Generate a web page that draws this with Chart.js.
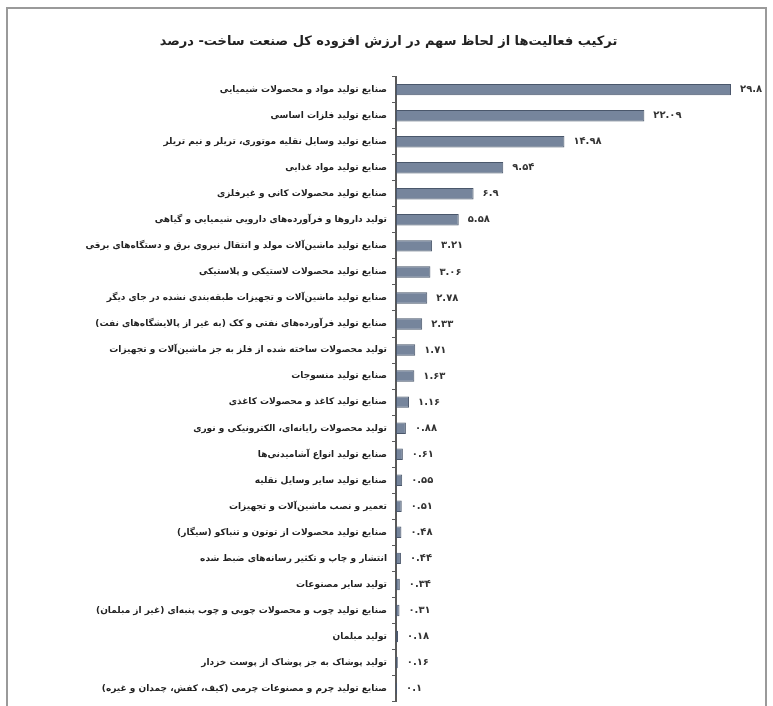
<!DOCTYPE html>
<html lang="fa">
<head>
<meta charset="utf-8">
<title>ترکیب فعالیت‌ها</title>
<script src="https://cdn.jsdelivr.net/npm/chart.js@4.4.0/dist/chart.umd.min.js"></script>
<style>
    html, body { margin: 0; padding: 0; background: #fff; }
    #wrap { position: relative; width: 773px; height: 706px; overflow: hidden; }
    #frame {
        position: absolute; left: 6px; top: 7px; width: 761px; height: 720px;
        border: 2px solid #9a9a9a; box-sizing: border-box;
    }
    canvas { position: absolute; left: 0; top: 0; }
</style>
</head>
<body>
<div id="wrap">
    <div id="frame"></div>
    <!-- بوم کمی بلندتر از قاب است تا محور تا پایین قاب ادامه پیدا کند -->
    <canvas id="shareChart" width="773" height="712" dir="rtl"></canvas>
</div>
<script>
// فعالیت‌ها (کدهای دورقمی صنعت ساخت)
const activities = [
    'صنایع تولید مواد و محصولات شیمیایی',
    'صنایع تولید فلزات اساسی',
    'صنایع تولید وسایل نقلیه موتوری، تریلر و نیم تریلر',
    'صنایع تولید مواد غذایی',
    'صنایع تولید محصولات کانی و غیرفلزی',
    'تولید داروها و فرآورده‌های دارویی شیمیایی و گیاهی',
    'صنایع تولید ماشین‌آلات مولد و انتقال نیروی برق و دستگاه‌های برقی',
    'صنایع تولید محصولات لاستیکی و پلاستیکی',
    'صنایع تولید ماشین‌آلات و تجهیزات طبقه‌بندی نشده در جای دیگر',
    'صنایع تولید فرآورده‌های نفتی و کک (به غیر از پالایشگاه‌های نفت)',
    'تولید محصولات ساخته شده از فلز به جز ماشین‌آلات و تجهیزات',
    'صنایع تولید منسوجات',
    'صنایع تولید کاغذ و محصولات کاغذی',
    'تولید محصولات رایانه‌ای، الکترونیکی و نوری',
    'صنایع تولید انواع آشامیدنی‌ها',
    'صنایع تولید سایر وسایل نقلیه',
    'تعمیر و نصب ماشین‌آلات و تجهیزات',
    'صنایع تولید محصولات از توتون و تنباکو (سیگار)',
    'انتشار و چاپ و تکثیر رسانه‌های ضبط شده',
    'تولید سایر مصنوعات',
    'صنایع تولید چوب و محصولات چوبی و چوب پنبه‌ای (غیر از مبلمان)',
    'تولید مبلمان',
    'تولید پوشاک به جز پوشاک از پوست خزدار',
    'صنایع تولید چرم و مصنوعات چرمی (کیف، کفش، چمدان و غیره)'
];

// سهم از ارزش افزوده کل - درصد
const shares = [
    29.8, 22.09, 14.98, 9.54, 6.9, 5.58, 3.21, 3.06, 2.78, 2.33, 1.71, 1.63,
    1.16, 0.88, 0.61, 0.55, 0.51, 0.48, 0.44, 0.34, 0.31, 0.18, 0.16, 0.1
];

const chartTitle = 'ترکیب فعالیت‌ها از لحاظ سهم در ارزش افزوده کل صنعت ساخت- درصد';

const FONT = "'DejaVu Sans', sans-serif";

// تبدیل ارقام لاتین به فارسی
function toFa(num) {
    const fa = '۰۱۲۳۴۵۶۷۸۹';
    return String(num).replace(/[0-9]/g, d => fa[d]);
}

// نوشتن مقدار کنار هر میله
const valueLabels = {
    id: 'valueLabels',
    afterDatasetsDraw(chart) {
        const ctx = chart.ctx;
        const meta = chart.getDatasetMeta(0);
        ctx.save();
        ctx.font = 'bold 10px ' + FONT;
        ctx.fillStyle = '#333';
        ctx.textAlign = 'left';
        ctx.textBaseline = 'middle';
        ctx.direction = 'ltr';
        meta.data.forEach((bar, i) => {
            ctx.fillText(toFa(shares[i]), bar.x + 9, bar.y);
        });
        ctx.restore();
    }
};

function initChart() {
    const ctx = document.getElementById('shareChart').getContext('2d');
    new Chart(ctx, {
        type: 'bar',
        data: {
            labels: activities,
            datasets: [{
                data: shares,
                backgroundColor: '#76859c',
                borderColor: '#4a576b',
                borderWidth: 1,
                borderSkipped: false,
                categoryPercentage: 1.0,
                barPercentage: 0.44
            }]
        },
        options: {
            indexAxis: 'y',
            responsive: false,
            animation: false,
            layout: {
                padding: { top: 30, right: 6, bottom: 0, left: 10 }
            },
            plugins: {
                legend: { display: false },
                tooltip: { enabled: false },
                title: {
                    display: true,
                    text: chartTitle,
                    color: '#222',
                    font: { family: FONT, size: 13, weight: 'bold' },
                    padding: { top: 4, bottom: 27 }
                }
            },
            scales: {
                x: {
                    display: false,
                    min: 0,
                    max: 33
                },
                y: {
                    afterFit(scale) {
                        scale.width = 386;
                    },
                    border: { display: true, color: '#5a5a5a', width: 2 },
                    grid: {
                        drawOnChartArea: false,
                        drawTicks: true,
                        tickLength: 4,
                        color: '#5a5a5a'
                    },
                    ticks: {
                        color: '#222',
                        padding: 5,
                        autoSkip: false,
                        font: { family: FONT, size: 9, weight: 'bold' }
                    }
                }
            }
        },
        plugins: [valueLabels]
    });
}

document.addEventListener('DOMContentLoaded', initChart);
</script>
</body>
</html>
